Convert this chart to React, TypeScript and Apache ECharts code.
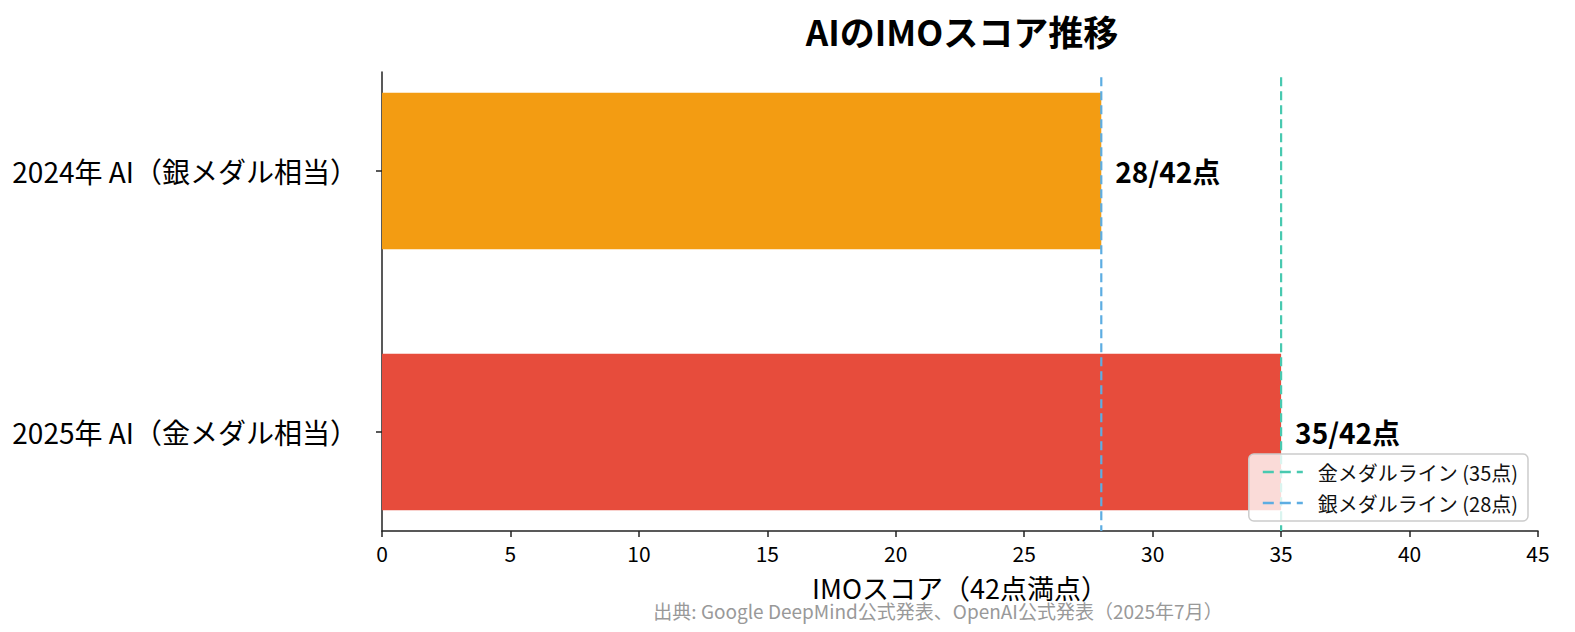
import React, { useEffect, useRef } from "react";
import * as echarts from "echarts";

const categories = ["2024年 AI（銀メダル相当）", "2025年 AI（金メダル相当）"];
const scores = [28, 35];
const maxScore = 42;
const barColors = ["#f39c12", "#e74c3c"];
const goldLine = 35;
const silverLine = 28;
const xTicks = [0, 45, 5];
const FONT = "'Noto Sans CJK JP', 'Noto Sans', sans-serif";
const DASH_ICON = "path://M0 0H11V2.6H0Z M17 0H28V2.6H17Z M34 0H40V2.6H34Z";

export default function App() {
  const ref = useRef<HTMLDivElement>(null);
  useEffect(() => {
    if (!ref.current) return;
    const chart = echarts.init(ref.current, null, { renderer: "svg" });
    const yMin = -0.38;
    const yMax = 1.38;
    chart.setOption({
      animation: false,
      backgroundColor: "#fff",
      textStyle: { fontFamily: FONT },
      grid: { left: 382, right: 37, top: 72, bottom: 101 },
      graphic: [
        {
          type: "text",
          x: 962,
          y: 30,
          style: {
            text: "AIのIMOスコア推移",
            font: `bold 35px ${FONT}`,
            fill: "#000",
            textAlign: "center",
            textVerticalAlign: "middle",
          },
        },
        {
          type: "text",
          x: 938,
          y: 610,
          style: {
            text: "出典: Google DeepMind公式発表、OpenAI公式発表（2025年7月）",
            font: `19px ${FONT}`,
            fill: "#999",
            textAlign: "center",
            textVerticalAlign: "middle",
          },
        },
      ],
      legend: {
        orient: "vertical",
        right: 47,
        top: 454,
        data: [
          { name: "金メダルライン (35点)", icon: DASH_ICON },
          { name: "銀メダルライン (28点)", icon: DASH_ICON },
        ],
        itemWidth: 40,
        itemHeight: 3,
        itemGap: 11,
        padding: [8, 10, 8, 14],
        backgroundColor: "rgba(255,255,255,0.8)",
        borderColor: "#cccccc",
        borderWidth: 1.5,
        borderRadius: 5,
        textStyle: { fontSize: 20, color: "#111", fontFamily: FONT, padding: [0, 0, 0, 10] },
      },
      xAxis: {
        type: "value",
        min: xTicks[0],
        max: xTicks[1],
        interval: xTicks[2],
        name: "IMOスコア（42点満点）",
        nameLocation: "middle",
        nameGap: 43,
        nameTextStyle: { fontSize: 27, color: "#000", fontFamily: FONT },
        axisLine: { show: true, onZero: false, lineStyle: { color: "#222", width: 1.5 } },
        axisTick: { show: true, length: 6, lineStyle: { color: "#222", width: 1.5 } },
        axisLabel: { fontSize: 21, color: "#000", margin: 11, fontFamily: FONT },
        splitLine: { show: false },
      },
      yAxis: {
        type: "value",
        min: yMin,
        max: yMax,
        inverse: true,
        axisLine: { show: true, onZero: false, lineStyle: { color: "#222", width: 1.5 } },
        axisTick: { show: true, length: 6, customValues: [0, 1], lineStyle: { color: "#222", width: 1.5 } },
        axisLabel: {
          customValues: [0, 1],
          fontSize: 28,
          color: "#000",
          margin: 24,
          fontFamily: FONT,
          formatter: (v: number) => categories[Math.round(v)] ?? "",
        },
        splitLine: { show: false },
      },
      series: [
        {
          type: "custom",
          name: "scores",
          data: scores.map((s, i) => [s, i]),
          encode: { x: 0, y: 1 },
          z: 2,
          renderItem: (params: any, api: any) => {
            const v = api.value(0);
            const i = api.value(1);
            const p0 = api.coord([0, i - 0.3]);
            const p1 = api.coord([v, i + 0.3]);
            const pc = api.coord([v, i]);
            return {
              type: "group",
              children: [
                {
                  type: "rect",
                  shape: {
                    x: p0[0],
                    y: Math.min(p0[1], p1[1]),
                    width: p1[0] - p0[0],
                    height: Math.abs(p1[1] - p0[1]),
                  },
                  style: { fill: barColors[params.dataIndex] },
                },
                {
                  type: "text",
                  x: p1[0] + 14,
                  y: pc[1],
                  style: {
                    text: `${v}/${maxScore}点`,
                    font: `bold 28px ${FONT}`,
                    fill: "#000",
                    textAlign: "left",
                    textVerticalAlign: "middle",
                  },
                },
              ],
            };
          },
        },
        {
          type: "line",
          name: "金メダルライン (35点)",
          data: [
            [goldLine, yMin + 0.02],
            [goldLine, yMax],
          ],
          symbol: "none",
          z: 3,
          color: "#48c9b0",
          lineStyle: { color: "#48c9b0", width: 2.2, type: [9, 5] },
        },
        {
          type: "line",
          name: "銀メダルライン (28点)",
          data: [
            [silverLine, yMin + 0.02],
            [silverLine, yMax],
          ],
          symbol: "none",
          z: 3,
          color: "#5dade2",
          lineStyle: { color: "#5dade2", width: 2.2, type: [9, 5] },
        },
      ],
    });
    return () => chart.dispose();
  }, []);
  return (
    <div
      ref={ref}
      style={{ position: "absolute", left: 0, top: 0, width: 1575, height: 632 }}
    />
  );
}
